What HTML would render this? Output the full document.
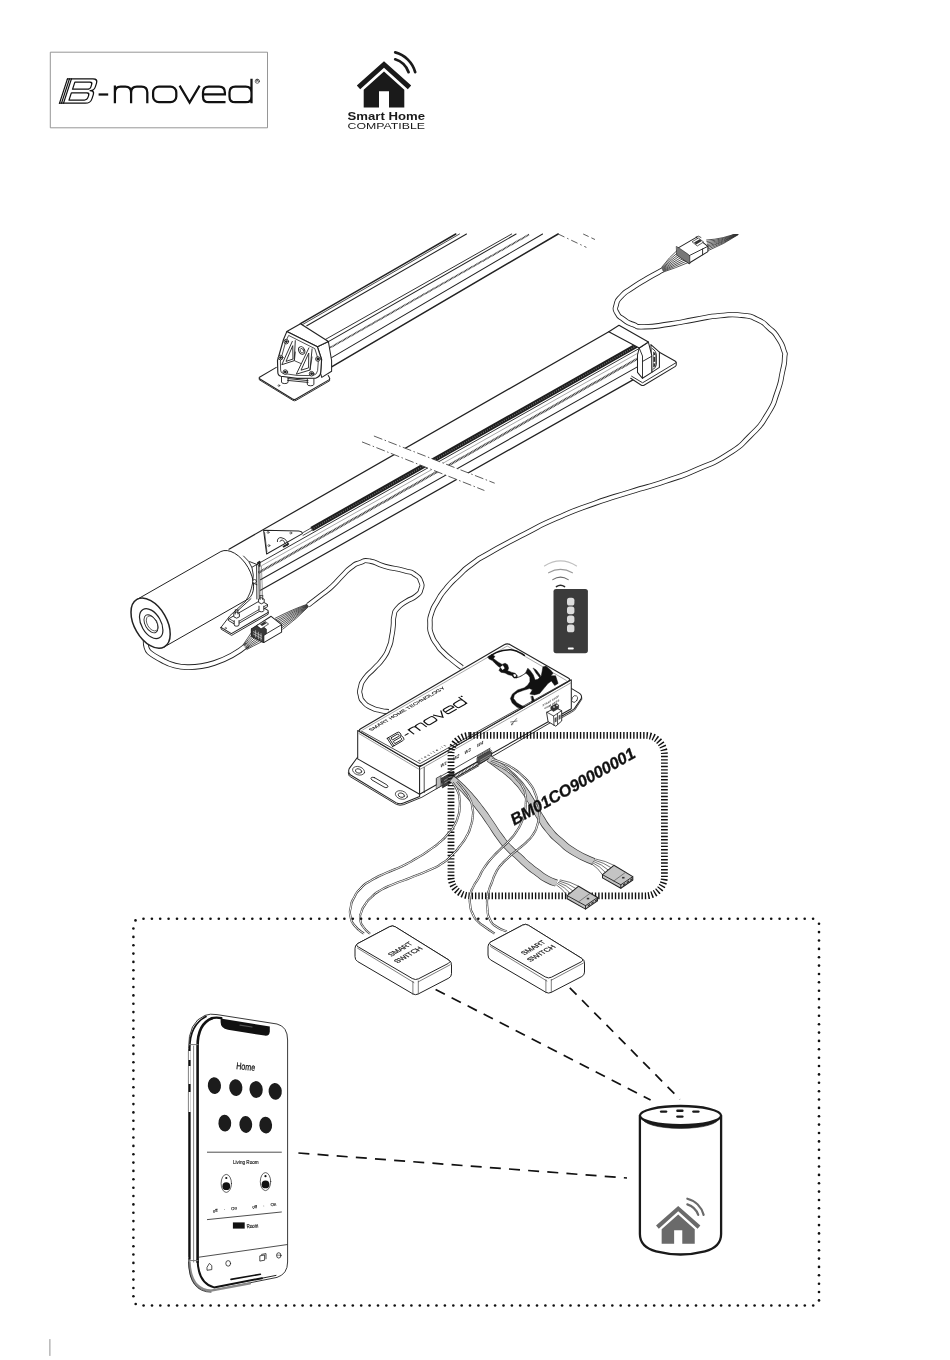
<!DOCTYPE html>
<html><head><meta charset="utf-8"><title>B-moved</title>
<style>
html,body{margin:0;padding:0;background:#fff;}
svg{display:block;font-family:"Liberation Sans",sans-serif;}
svg{will-change:transform;opacity:0.999;}
</style></head><body>
<svg width="950" height="1360" viewBox="0 0 950 1360" stroke-linejoin="round" stroke-linecap="round">
<rect x="0" y="0" width="950" height="1360" fill="#fff"/>
<g id="logo">
<rect x="50.7" y="52.2" width="216.8" height="75.6" fill="#fff" stroke="#8a8a8a" stroke-width="0.9"/>
<g transform="translate(59.5,103.2) skewX(-18)" fill="none" stroke="#111" stroke-width="1.25">
<path d="M0,0 V-24.3 M2,0 V-24.3 M4,0 V-24.3"/>
<path d="M0,0 H26 Q31,0 31,-4.5 V-8.5 Q31,-12.6 26.5,-12.6 Q30.5,-12.6 30.5,-16.5 V-20 Q30.5,-24.3 25.5,-24.3 H0"/>
<path d="M8.5,-3.2 H24 Q26.6,-3.2 26.6,-5.6 V-7.8 Q26.6,-10.4 24,-10.4 H8.5 Z M8.5,-14 H23.6 Q26.1,-14 26.1,-16.2 V-18.6 Q26.1,-21 23.6,-21 H8.5 Z"/>
</g>
<g fill="none" stroke="#111" stroke-width="2.25" stroke-linecap="butt" stroke-linejoin="miter">
<path d="M98.6,94.5 H108.2"/>
<path d="M114.9,85.4 V103.3 M114.9,92.39999999999999 Q114.9,86.6 120.7,86.6 H125.3 Q131.1,86.6 131.1,92.39999999999999 V103.3 M131.1,92.39999999999999 Q131.1,86.6 136.9,86.6 H141.5 Q147.3,86.6 147.3,92.39999999999999 V103.3"/>
<rect x="153.1" y="86.6" width="23.2" height="15.6" rx="5.8"/>
<path d="M179.6,85.6 L189.6,102.6 L199.6,85.6"/>
<path d="M203,94.4 H224.9 V92.39999999999999 Q224.9,86.6 219.1,86.6 H208.8 Q203,86.6 203,92.39999999999999 V96.4 Q203,102.2 208.8,102.2 H225.5"/>
<path d="M251.5,78.8 V103.3 M251.5,92.39999999999999 Q251.5,86.6 245.7,86.6 H235.3 Q229.5,86.6 229.5,92.39999999999999 V96.4 Q229.5,102.2 235.3,102.2 H245.7 Q251.5,102.2 251.5,96.4"/>
</g>
<circle cx="257.3" cy="81.2" r="2.1" fill="none" stroke="#111" stroke-width="0.6"/>
<text x="257.3" y="82.4" font-size="3.2" font-weight="bold" text-anchor="middle" fill="#111">R</text>
</g>
<g transform="translate(384,61.2) scale(1)" fill="#1a1a1a" stroke="none">
<path d="M0,0 L27.2,24.2 L23.8,28 L0,6.6 L-23.8,28 L-27.2,24.2 Z"/>
<path d="M0,10.4 L20.3,28.6 V46.4 H5 V30 H-5 V46.4 H-20.3 V28.6 Z"/>
<path d="M11.2,-1.9 A21,21 0 0 1 24.6,11" fill="none" stroke="#1a1a1a" stroke-width="2.7" stroke-linecap="round"/>
<path d="M11.2,-8.8 A28,28 0 0 1 31.2,11" fill="none" stroke="#1a1a1a" stroke-width="2.7" stroke-linecap="round"/>
</g>
<text x="347.6" y="119.6" font-size="10.6" font-weight="bold" fill="#1a1a1a" textLength="77.4" lengthAdjust="spacingAndGlyphs">Smart Home</text>
<text x="347.6" y="129.1" font-size="9.6" fill="#1a1a1a" textLength="77.4" lengthAdjust="spacingAndGlyphs">COMPATIBLE</text>
<line x1="49.9" y1="1339.5" x2="49.9" y2="1355.5" stroke="#777" stroke-width="0.8"/>
<g id="upper-rail">
<line x1="300.5" y1="323.7" x2="455.8" y2="234.0" stroke="#222" stroke-width="1.49" />
<line x1="301.8" y1="325.0" x2="459.5" y2="234.0" stroke="#222" stroke-width="0.8" />
<line x1="306.8" y1="325.8" x2="466.5" y2="234.0" stroke="#222" stroke-width="1.03" />
<line x1="324.6" y1="339.9" x2="511.7" y2="234.0" stroke="#222" stroke-width="0.92" />
<line x1="328.4" y1="341.6" x2="516.1" y2="234.0" stroke="#222" stroke-width="1.03" />
<line x1="330.2" y1="347.6" x2="529" y2="234.6" stroke="#3a3a3a" stroke-width="1.7" stroke-dasharray="1.0 0.45" stroke-linecap="butt"/>
<line x1="331.6" y1="357.6" x2="542.6" y2="234.0" stroke="#222" stroke-width="1.03" />
<line x1="331.6" y1="366.8" x2="558.1" y2="234.0" stroke="#222" stroke-width="1.49" />
<path d="M558.1,234 L586.4,247.4" stroke="#333" stroke-width="0.8" fill="none" stroke-dasharray="7 3 1.5 3" stroke-linecap="butt"/>
<path d="M583.2,234 L596,240" stroke="#333" stroke-width="0.8" fill="none" stroke-dasharray="6 3 4 3" stroke-linecap="butt"/>
<path d="M276.3,367.4 L259.5,377.2 Q258.6,378.2 260,379 L292.6,399 Q294.4,400 296,399 L329.3,379.6 Q330.2,378.6 329.4,377.6 L328.2,375.4" stroke="#222" stroke-width="1.03" fill="#fff" />
<path d="M259.3,378.6 L259.3,379.8 L293,400.4 Q294.4,401.2 296,400.4 L329.6,380.8 L329.6,379" stroke="#222" stroke-width="0.92" fill="none" />
<circle cx="278.9" cy="385.6" r="0.9" fill="none" stroke="#222" stroke-width="0.6"/>
<path d="M281.5,376.4 V382.0 A3.3,1.6 0 0 0 288.1,382.0 V376.4" stroke="#222" stroke-width="0.92" fill="#fff" />
<path d="M307.3,378.6 V384.20000000000005 A3.3,1.6 0 0 0 313.90000000000003,384.20000000000005 V378.6" stroke="#222" stroke-width="0.92" fill="#fff" />
<polygon points="317.4,346.8 328.4,341.6 331.6,360.5 331.6,371.2 321.8,377.4 320.5,373.2 321.6,359.5" stroke="#222" stroke-width="1.03" fill="#fff" />
<polygon points="286.8,331.6 300.5,323.7 328.4,341.6 317.4,346.8" stroke="#222" stroke-width="1.15" fill="#fff" />
<path d="M286.8,331.6 L317.4,346.8 L321.6,359.5 L320.7,372.6 Q320.2,376.6 315.6,378.2 L297,378.4 L281,376.2 Q277.8,375.6 277.8,372 L277.5,360.5 L283.5,339.5 Z" stroke="#222" stroke-width="1.15" fill="#fff" />
<path d="M289,335.6 L314.8,348.6 L318.4,360 L317.6,370.6 Q317,374.6 313,375.6 L297,375.4 L283,373.4 Q280.6,372.8 280.6,370 L280.4,361 L285.8,341.4 Z" stroke="#222" stroke-width="0.8" fill="none" />
<path d="M292.3,341.4 L281.8,364.7 L294.2,360.7 L295.3,340.7 M292.6,346 L286,361.4 L292.6,359.2 Z" stroke="#222" stroke-width="0.92" fill="none" />
<path d="M308.9,347.9 L296.3,374.2 L310,370 L312.1,348.9 M308.6,353.4 L301,370.2 L308.2,368 Z" stroke="#222" stroke-width="0.92" fill="none" />
<path d="M295.3,352 L294.4,360.7 L300.6,363.4 M312,357 L310,370" stroke="#222" stroke-width="0.8" fill="none" />
<ellipse cx="301.7" cy="350.5" rx="2.9" ry="3.9" transform="rotate(-25 301.7 350.5)" fill="none" stroke="#222" stroke-width="0.9"/>
<ellipse cx="301.9" cy="350.7" rx="1.6" ry="2.4" transform="rotate(-25 301.9 350.7)" fill="none" stroke="#222" stroke-width="0.7"/>
<circle cx="286.3" cy="341.6" r="2.3" fill="#fff" stroke="#222" stroke-width="0.9"/>
<circle cx="286.3" cy="341.6" r="1.4" fill="#222" stroke="none"/>
<circle cx="280.6" cy="357.6" r="2.3" fill="#fff" stroke="#222" stroke-width="0.9"/>
<circle cx="280.6" cy="357.6" r="1.4" fill="#222" stroke="none"/>
<circle cx="317.9" cy="359" r="2.3" fill="#fff" stroke="#222" stroke-width="0.9"/>
<circle cx="317.9" cy="359" r="1.4" fill="#222" stroke="none"/>
<circle cx="285.3" cy="372.1" r="2.3" fill="#fff" stroke="#222" stroke-width="0.9"/>
<circle cx="285.3" cy="372.1" r="1.4" fill="#222" stroke="none"/>
<circle cx="311.6" cy="373.7" r="2.3" fill="#fff" stroke="#222" stroke-width="0.9"/>
<circle cx="311.6" cy="373.7" r="1.4" fill="#222" stroke="none"/>
<path d="M288,378.6 L308,380.6 M287.6,380.4 L308,382.4" stroke="#222" stroke-width="0.92" fill="none" />
</g>
<g id="lower-rail">
<line x1="229.0" y1="549.2" x2="608.8" y2="331.7" stroke="#222" stroke-width="1.26" />
<line x1="311.6" y1="529.1" x2="636.6" y2="345.5" stroke="#1e1e1e" stroke-width="4.8" stroke-linecap="butt"/>
<line x1="311.6" y1="529.3" x2="636.6" y2="345.7" stroke="#6a6a6a" stroke-width="1.49" stroke-linecap="butt" stroke-dasharray="1.0 1.4"/>
<line x1="252.0" y1="567.2" x2="639.2" y2="348.5" stroke="#222" stroke-width="0.92" />
<line x1="262.0" y1="565.5" x2="640.0" y2="351.9" stroke="#666" stroke-width="0.57" />
<line x1="258.5" y1="572.7" x2="640.4" y2="357.0" stroke="#3a3a3a" stroke-width="2.3" stroke-linecap="butt" stroke-dasharray="1.0 0.5"/>
<line x1="260.5" y1="579.8" x2="637.8" y2="366.6" stroke="#222" stroke-width="1.03" />
<line x1="260.5" y1="590.3" x2="637.8" y2="377.1" stroke="#222" stroke-width="1.26" />
<line x1="303.0" y1="532.6" x2="311.6" y2="527.7" stroke="#222" stroke-width="0.8" />
<line x1="303.0" y1="535.4" x2="311.6" y2="530.5" stroke="#222" stroke-width="0.8" />
<polygon points="373.9,436.0 494.7,483.2 484.4,490.5 362.0,441.9" stroke="none" stroke-width="0.0" fill="#fff" />
<path d="M373.9,436 L494.7,483.2" stroke="#333" stroke-width="0.8" fill="none" stroke-dasharray="9 2.5 1.5 2.5" stroke-linecap="butt"/>
<path d="M362,441.9 L484.4,490.5" stroke="#333" stroke-width="0.8" fill="none" stroke-dasharray="9 2.5 1.5 2.5" stroke-linecap="butt"/>
<path d="M630.7,378.3 L641.4,385.2 Q642.6,386 644,385.2 L675.4,366.4 Q676.4,365.6 676.3,364.4 L676.2,362.6 Q676,361.6 675,361 L659.4,352.2" stroke="#222" stroke-width="1.03" fill="#fff" />
<path d="M631.6,376.2 L642.6,382.8 L676.2,362.6" stroke="#222" stroke-width="0.92" fill="none" />
<path d="M650.9,344.6 L659.4,352.2 L659.4,367.4 L651.8,372.4 Z" stroke="#222" stroke-width="1.03" fill="#fff" />
<path d="M652.4,348.6 Q656.4,350.8 656.4,356 L656.4,364.6 Q656,368 653,369.4" stroke="#222" stroke-width="0.92" fill="none" />
<path d="M653.2,351.5 L655.6,353.2 L655.6,366 L653.2,367.6 Z" fill="#333" stroke="none"/>
<circle cx="654.4" cy="356" r="0.9" fill="#fff"/><circle cx="654.4" cy="362.6" r="0.9" fill="#fff"/>
<polygon points="639.2,348.0 648.4,342.1 651.8,355.6 651.8,372.4 642.5,378.3 637.5,372.4 637.5,355.0" stroke="#222" stroke-width="1.03" fill="#fff" />
<polygon points="608.8,331.7 619.0,325.3 648.4,342.1 639.2,348.0" stroke="#222" stroke-width="1.15" fill="#fff" />
<path d="M639.2,348 L642.5,356 L642.5,378.3 M642.6,361.4 L651.8,356.2" stroke="#222" stroke-width="0.92" fill="none" />
</g>
<g id="motor">
<path d="M247.6,644.6 C240,651 228,658.6 214.3,663 C205,666 196,667.4 187.4,667.2 C178,667 170,664.6 163.8,661.2 C157,657.6 152,655 149,652 C146.4,649.4 145.6,646.8 145.6,640" stroke="#222" stroke-width="5.70" fill="none" stroke-linecap="butt"/>
<path d="M247.6,644.6 C240,651 228,658.6 214.3,663 C205,666 196,667.4 187.4,667.2 C178,667 170,664.6 163.8,661.2 C157,657.6 152,655 149,652 C146.4,649.4 145.6,646.8 145.6,640" stroke="#fff" stroke-width="3.90" fill="none" stroke-linecap="butt"/>
<path d="M136.9,599.5 L220.9,551.5 A16.2,27.4 -30 0 1 248.3,598.9 L164.3,646.9 Z" fill="#fff" stroke="#222" stroke-width="1"/>
<ellipse cx="150.6" cy="623.2" rx="16.2" ry="27.4" transform="rotate(-30 150.6 623.2)" fill="#fff" stroke="#222" stroke-width="1.5"/>
<ellipse cx="151.2" cy="623.6" rx="9.7" ry="16.4" transform="rotate(-30 151.2 623.6)" fill="none" stroke="#222" stroke-width="1.2"/>
<ellipse cx="151.0" cy="623.8000000000001" rx="5.8" ry="9.9" transform="rotate(-30 151.0 623.8000000000001)" fill="none" stroke="#222" stroke-width="0.9"/>
<ellipse cx="152.2" cy="623.4000000000001" rx="4.9" ry="8.2" transform="rotate(-30 152.2 623.4000000000001)" fill="none" stroke="#333" stroke-width="0.7"/>
</g>
<g id="bracket">
<path d="M263.6,530.3 L298.6,531 Q302.4,531.6 302.4,533.6 L266.6,554 Z" stroke="#222" stroke-width="1.03" fill="#fff" />
<path d="M264.6,532.6 L266.9,551.6" stroke="#222" stroke-width="0.69" fill="none" />
<circle cx="268.1" cy="532.4" r="1.0" fill="#fff" stroke="#222" stroke-width="0.6"/>
<circle cx="290.8" cy="533" r="1.0" fill="#fff" stroke="#222" stroke-width="0.6"/>
<circle cx="268.9" cy="545.6" r="1.0" fill="#fff" stroke="#222" stroke-width="0.6"/>
<path d="M277.4,541.6 Q277,537.6 281,537.6 Q285,537.8 287.6,542.2 L287.6,545.4 M280,541.4 Q280.6,539.6 282.6,540.2 Q284.6,541 285.2,543.6" stroke="#222" stroke-width="0.92" fill="none" />
<path d="M283.6,546.6 L288.2,544" stroke="#222" stroke-width="1.84" fill="none" />
<path d="M243.6,556 Q256,566 252.6,583 Q250.6,594 246,600.4" stroke="#222" stroke-width="0.92" fill="none" />
<path d="M249.6,561.6 L258.8,565.2 L259.2,597.6 M256.6,564.4 L256.9,599 M252.6,583 L256.8,584.6" stroke="#222" stroke-width="0.92" fill="none" />
<path d="M257.8,563 L259.6,561.8 L259.6,566" stroke="#222" stroke-width="1.84" fill="none" />
<circle cx="254.6" cy="581.4" r="1.9" fill="#fff" stroke="#222" stroke-width="0.8"/>
<path d="M245.6,601.4 L230,615.6 L221,627.4 M251,598.6 L237,611.4" stroke="#222" stroke-width="0.92" fill="none" />
<path d="M221,627.4 L231.4,633.6 L268.2,612.4 L268,610.4 L262,607" stroke="#222" stroke-width="1.03" fill="#fff" />
<path d="M221,627.4 L221.2,629.2 L231.6,635.4 L268.2,614.2 L268.2,612.4" stroke="#222" stroke-width="0.92" fill="none" />
<path d="M228.6,620.6 L236,625 L267.6,606.6 L267.4,604.4 L260.4,600.4 L229,618.6 Z" stroke="#222" stroke-width="0.92" fill="#fff" />
<path d="M236,625 L236,623 L267.4,604.6 M229,618.6 L236,622.8" stroke="#222" stroke-width="0.8" fill="none" />
<path d="M234.2,620.6 V625.0 A2.4,1.2 0 0 0 239.0,625.0 V620.6" stroke="#222" stroke-width="0.92" fill="#fff" />
<path d="M233.79999999999998,613.6 L233.79999999999998,616.8000000000001 L236.6,618.2 L239.4,616.8000000000001 L239.4,613.6 L236.6,612.2 Z" stroke="#222" stroke-width="0.92" fill="#fff" />
<path d="M235.29999999999998,610.0 V614.0 M237.9,610.0 V614.0 M235.29999999999998,610.0 H237.9" stroke="#222" stroke-width="0.8" fill="none" />
<path d="M259.0,606.2 V610.6 A2.4,1.2 0 0 0 263.79999999999995,610.6 V606.2" stroke="#222" stroke-width="0.92" fill="#fff" />
<path d="M258.59999999999997,599.2 L258.59999999999997,602.4000000000001 L261.4,603.8000000000001 L264.2,602.4000000000001 L264.2,599.2 L261.4,597.8000000000001 Z" stroke="#222" stroke-width="0.92" fill="#fff" />
<path d="M260.09999999999997,595.6 V599.6 M262.7,595.6 V599.6 M260.09999999999997,595.6 H262.7" stroke="#222" stroke-width="0.8" fill="none" />
<circle cx="225.6" cy="628.2" r="0.8" fill="none" stroke="#222" stroke-width="0.5"/>
<path d="M259.6,566 L261,596 M261.4,566 L262.6,596" stroke="#555" stroke-width="0.57" fill="none" />
</g>
<g id="motor-connector">
<path d="M275.3,618.2 Q293.6,608.8 307.4,604.2" stroke="#2a2a2a" stroke-width="0.8" fill="none" />
<path d="M276.2,619.6 Q294.1,609.9 307.5,604.5" stroke="#2a2a2a" stroke-width="0.8" fill="none" />
<path d="M277.2,621.0 Q294.5,611.1 307.7,604.8" stroke="#2a2a2a" stroke-width="0.8" fill="none" />
<path d="M278.1,622.3 Q295.0,612.3 307.8,605.1" stroke="#2a2a2a" stroke-width="0.8" fill="none" />
<path d="M279.1,623.7 Q295.5,613.5 308.0,605.4" stroke="#2a2a2a" stroke-width="0.8" fill="none" />
<path d="M280.0,625.1 Q295.9,614.7 308.1,605.7" stroke="#2a2a2a" stroke-width="0.8" fill="none" />
<path d="M280.9,626.5 Q296.4,615.9 308.3,606.0" stroke="#2a2a2a" stroke-width="0.8" fill="none" />
<path d="M281.9,627.8 Q296.9,617.1 308.4,606.3" stroke="#2a2a2a" stroke-width="0.8" fill="none" />
<path d="M282.8,629.2 Q297.4,618.2 308.6,606.6" stroke="#2a2a2a" stroke-width="0.8" fill="none" />
<path d="M251.8,632.0 Q247.4,638.5 243.4,644.4" stroke="#2a2a2a" stroke-width="0.8" fill="none" />
<path d="M253.3,633.4 Q248.1,639.6 243.9,645.1" stroke="#2a2a2a" stroke-width="0.8" fill="none" />
<path d="M254.7,634.7 Q248.9,640.7 244.4,645.8" stroke="#2a2a2a" stroke-width="0.8" fill="none" />
<path d="M256.2,636.1 Q249.6,641.8 244.9,646.5" stroke="#2a2a2a" stroke-width="0.8" fill="none" />
<path d="M257.6,637.5 Q250.3,643.0 245.5,647.3" stroke="#2a2a2a" stroke-width="0.8" fill="none" />
<path d="M259.1,638.9 Q251.0,644.1 246.0,648.0" stroke="#2a2a2a" stroke-width="0.8" fill="none" />
<path d="M260.5,640.2 Q251.8,645.2 246.5,648.7" stroke="#2a2a2a" stroke-width="0.8" fill="none" />
<path d="M262.0,641.6 Q252.5,646.3 247.0,649.4" stroke="#2a2a2a" stroke-width="0.8" fill="none" />
<polygon points="251.6,628.9 271.1,616.3 281.6,624.7 281.6,632.1 263.7,642.6 251.6,636.3" stroke="#222" stroke-width="1.03" fill="#fff" />
<path d="M251.6,628.9 L263.7,635.3 L281.6,624.7 M263.7,635.3 L263.7,642.6" stroke="#222" stroke-width="0.92" fill="none" />
<path d="M251.6,628.9 L259.6,623.8 L266.4,629.2 L266.4,633.6 L263.7,635.3 L263.7,642.6 L251.6,636.3 Z" fill="#3a3a3a" stroke="#222" stroke-width="0.7"/>
<path d="M257,625.6 L264.4,620.8 L268.6,624 L261.2,628.8 Z" fill="#fff" stroke="#222" stroke-width="0.7"/>
<path d="M260,624.4 L264.6,621.6 L266.6,623.2 L262,626 Z" fill="#333" stroke="none"/>
<path d="M253.4,631.6 L261.6,636 M253.4,634 L261.6,638.4 M255.6,630.6 V637 M258.4,632.2 V638.8 M261,633.6 V640.2" stroke="#ddd" stroke-width="0.6" fill="none"/>
</g>
<g id="cables">
<path d="M307.9,605.3 C311.9,602.2 311.9,602.3 320.0,596.0 C328.1,589.7 324.8,593.0 332.1,586.3 C339.4,579.6 335.7,582.3 342.0,576.0 C348.3,569.7 345.1,571.9 351.1,567.4 C357.1,562.9 353.7,564.7 360.0,562.6 C366.3,560.5 361.8,559.9 370.0,561.1 C378.2,562.3 373.5,563.2 384.7,566.3 C395.9,569.4 393.6,567.7 403.7,570.5 C413.8,573.3 409.3,570.9 415.0,574.6 C420.7,578.3 418.8,576.8 420.8,581.6 C422.8,586.4 422.5,584.3 421.0,589.0 C419.5,593.7 421.3,591.6 416.3,595.8 C411.3,600.0 412.3,597.4 406.0,601.6 C399.7,605.8 401.4,603.6 397.4,608.4 C393.4,613.2 395.4,610.1 394.0,616.0 C392.6,621.9 394.0,619.0 393.2,626.0 C392.4,633.0 393.0,629.9 391.6,637.0 C390.2,644.1 391.8,640.2 388.9,647.4 C386.0,654.6 387.9,651.6 383.0,658.6 C378.1,665.6 380.2,661.9 374.2,668.4 C368.2,674.9 369.6,671.7 365.0,678.0 C360.4,684.3 362.0,681.5 360.5,687.4 C359.0,693.3 359.3,690.7 360.4,695.6 C361.5,700.5 360.2,698.2 363.7,702.1 C367.2,706.0 365.4,704.6 371.0,707.4 C376.6,710.2 374.6,709.1 380.5,710.5 C386.4,711.9 385.9,711.2 388.6,711.6" stroke="#222" stroke-width="5.15" fill="none" stroke-linecap="butt"/>
<path d="M307.9,605.3 C311.9,602.2 311.9,602.3 320.0,596.0 C328.1,589.7 324.8,593.0 332.1,586.3 C339.4,579.6 335.7,582.3 342.0,576.0 C348.3,569.7 345.1,571.9 351.1,567.4 C357.1,562.9 353.7,564.7 360.0,562.6 C366.3,560.5 361.8,559.9 370.0,561.1 C378.2,562.3 373.5,563.2 384.7,566.3 C395.9,569.4 393.6,567.7 403.7,570.5 C413.8,573.3 409.3,570.9 415.0,574.6 C420.7,578.3 418.8,576.8 420.8,581.6 C422.8,586.4 422.5,584.3 421.0,589.0 C419.5,593.7 421.3,591.6 416.3,595.8 C411.3,600.0 412.3,597.4 406.0,601.6 C399.7,605.8 401.4,603.6 397.4,608.4 C393.4,613.2 395.4,610.1 394.0,616.0 C392.6,621.9 394.0,619.0 393.2,626.0 C392.4,633.0 393.0,629.9 391.6,637.0 C390.2,644.1 391.8,640.2 388.9,647.4 C386.0,654.6 387.9,651.6 383.0,658.6 C378.1,665.6 380.2,661.9 374.2,668.4 C368.2,674.9 369.6,671.7 365.0,678.0 C360.4,684.3 362.0,681.5 360.5,687.4 C359.0,693.3 359.3,690.7 360.4,695.6 C361.5,700.5 360.2,698.2 363.7,702.1 C367.2,706.0 365.4,704.6 371.0,707.4 C376.6,710.2 374.6,709.1 380.5,710.5 C386.4,711.9 385.9,711.2 388.6,711.6" stroke="#fff" stroke-width="3.45" fill="none" stroke-linecap="butt"/>
<path d="M662.6,270.0 C657.4,272.9 657.2,272.6 647.0,278.6 C636.8,284.6 640.5,282.2 632.0,288.0 C623.5,293.8 626.8,290.4 621.6,296.0 C616.4,301.6 617.8,299.0 616.3,304.7 C614.8,310.4 614.5,308.1 617.0,313.0 C619.5,317.9 618.4,315.7 623.7,319.5 C629.0,323.3 626.0,322.0 633.0,324.4 C640.0,326.8 632.4,326.9 644.7,326.8 C657.0,326.7 653.1,326.4 670.0,324.0 C686.9,321.6 678.6,322.3 695.3,319.5 C712.0,316.7 704.6,317.0 720.0,315.6 C735.4,314.2 729.3,314.0 741.6,315.3 C753.9,316.6 747.9,315.2 757.0,319.4 C766.1,323.6 761.9,321.7 768.9,327.9 C775.9,334.1 773.1,330.6 778.0,338.0 C782.9,345.4 781.5,343.3 783.7,350.0 C785.9,356.7 785.0,350.7 784.6,358.0 C784.2,365.3 784.9,360.3 782.4,372.0 C779.9,383.7 782.1,378.7 777.0,393.0 C771.9,407.3 776.0,400.7 767.0,415.0 C758.0,429.3 763.3,422.8 750.0,436.0 C736.7,449.2 744.4,443.7 727.1,454.7 C709.8,465.7 718.6,460.1 698.0,469.0 C677.4,477.9 688.0,473.6 665.3,481.3 C642.6,489.0 653.6,484.6 630.0,492.0 C606.4,499.4 618.5,494.9 594.5,503.4 C570.5,511.9 581.6,507.3 558.0,517.6 C534.4,527.9 546.5,522.6 523.8,534.3 C501.1,546.0 507.3,542.7 490.0,552.6 C472.7,562.5 482.5,556.3 472.0,564.0 C461.5,571.7 467.1,567.6 458.4,575.8 C449.7,584.0 453.0,580.2 446.0,588.6 C439.0,597.0 442.2,593.0 437.4,601.1 C432.6,609.2 434.1,605.3 431.6,613.0 C429.1,620.7 430.0,616.9 430.0,624.2 C430.0,631.5 429.1,628.0 431.6,635.0 C434.1,642.0 433.3,639.3 437.4,645.3 C441.5,651.3 439.1,648.1 444.0,653.0 C448.9,657.9 446.1,655.1 452.1,660.0 C458.1,664.9 458.7,665.1 462.0,667.6" stroke="#222" stroke-width="5.35" fill="none" stroke-linecap="butt"/>
<path d="M662.6,270.0 C657.4,272.9 657.2,272.6 647.0,278.6 C636.8,284.6 640.5,282.2 632.0,288.0 C623.5,293.8 626.8,290.4 621.6,296.0 C616.4,301.6 617.8,299.0 616.3,304.7 C614.8,310.4 614.5,308.1 617.0,313.0 C619.5,317.9 618.4,315.7 623.7,319.5 C629.0,323.3 626.0,322.0 633.0,324.4 C640.0,326.8 632.4,326.9 644.7,326.8 C657.0,326.7 653.1,326.4 670.0,324.0 C686.9,321.6 678.6,322.3 695.3,319.5 C712.0,316.7 704.6,317.0 720.0,315.6 C735.4,314.2 729.3,314.0 741.6,315.3 C753.9,316.6 747.9,315.2 757.0,319.4 C766.1,323.6 761.9,321.7 768.9,327.9 C775.9,334.1 773.1,330.6 778.0,338.0 C782.9,345.4 781.5,343.3 783.7,350.0 C785.9,356.7 785.0,350.7 784.6,358.0 C784.2,365.3 784.9,360.3 782.4,372.0 C779.9,383.7 782.1,378.7 777.0,393.0 C771.9,407.3 776.0,400.7 767.0,415.0 C758.0,429.3 763.3,422.8 750.0,436.0 C736.7,449.2 744.4,443.7 727.1,454.7 C709.8,465.7 718.6,460.1 698.0,469.0 C677.4,477.9 688.0,473.6 665.3,481.3 C642.6,489.0 653.6,484.6 630.0,492.0 C606.4,499.4 618.5,494.9 594.5,503.4 C570.5,511.9 581.6,507.3 558.0,517.6 C534.4,527.9 546.5,522.6 523.8,534.3 C501.1,546.0 507.3,542.7 490.0,552.6 C472.7,562.5 482.5,556.3 472.0,564.0 C461.5,571.7 467.1,567.6 458.4,575.8 C449.7,584.0 453.0,580.2 446.0,588.6 C439.0,597.0 442.2,593.0 437.4,601.1 C432.6,609.2 434.1,605.3 431.6,613.0 C429.1,620.7 430.0,616.9 430.0,624.2 C430.0,631.5 429.1,628.0 431.6,635.0 C434.1,642.0 433.3,639.3 437.4,645.3 C441.5,651.3 439.1,648.1 444.0,653.0 C448.9,657.9 446.1,655.1 452.1,660.0 C458.1,664.9 458.7,665.1 462.0,667.6" stroke="#fff" stroke-width="3.65" fill="none" stroke-linecap="butt"/>
</g>
<g id="top-connector">
<path d="M677.6,250.0 Q669.3,257.0 661.6,267.4" stroke="#2a2a2a" stroke-width="0.8" fill="none" />
<path d="M679.0,251.6 Q670.0,258.4 661.9,267.9" stroke="#2a2a2a" stroke-width="0.8" fill="none" />
<path d="M680.4,253.1 Q670.7,259.8 662.2,268.5" stroke="#2a2a2a" stroke-width="0.8" fill="none" />
<path d="M681.7,254.6 Q671.4,261.2 662.5,269.0" stroke="#2a2a2a" stroke-width="0.8" fill="none" />
<path d="M683.1,256.2 Q672.0,262.6 662.8,269.6" stroke="#2a2a2a" stroke-width="0.8" fill="none" />
<path d="M684.5,257.8 Q672.7,264.0 663.1,270.1" stroke="#2a2a2a" stroke-width="0.8" fill="none" />
<path d="M685.9,259.3 Q673.4,265.4 663.4,270.7" stroke="#2a2a2a" stroke-width="0.8" fill="none" />
<path d="M687.2,260.8 Q674.1,266.8 663.7,271.2" stroke="#2a2a2a" stroke-width="0.8" fill="none" />
<path d="M688.6,262.4 Q674.8,268.2 664.0,271.8" stroke="#2a2a2a" stroke-width="0.8" fill="none" />
<clipPath id="cptop"><rect x="600" y="234" width="200" height="100"/></clipPath>
<g clip-path="url(#cptop)">
<path d="M706.6,240.0 Q724.0,239.0 738.0,232.6" stroke="#2a2a2a" stroke-width="0.8" fill="none" />
<path d="M706.9,241.5 Q724.0,239.7 738.0,232.9" stroke="#2a2a2a" stroke-width="0.8" fill="none" />
<path d="M707.2,243.0 Q724.0,240.5 738.0,233.2" stroke="#2a2a2a" stroke-width="0.8" fill="none" />
<path d="M707.5,244.5 Q724.0,241.2 738.0,233.5" stroke="#2a2a2a" stroke-width="0.8" fill="none" />
<path d="M707.7,245.9 Q724.0,242.0 738.0,233.9" stroke="#2a2a2a" stroke-width="0.8" fill="none" />
<path d="M708.0,247.4 Q724.0,242.7 738.0,234.2" stroke="#2a2a2a" stroke-width="0.8" fill="none" />
<path d="M708.3,248.9 Q724.0,243.5 738.0,234.5" stroke="#2a2a2a" stroke-width="0.8" fill="none" />
<path d="M708.6,250.4 Q724.0,244.2 738.0,234.8" stroke="#2a2a2a" stroke-width="0.8" fill="none" />
</g>
<polygon points="677.4,248.4 696.3,237.4 707.9,246.3 707.9,251.6 688.9,263.2 677.4,254.7" stroke="#222" stroke-width="1.03" fill="#fff" />
<path d="M677.4,248.4 L688.9,255.8 L707.9,246.3 M688.9,255.8 L688.9,263.2 M702.6,249 L702.6,254.8" stroke="#222" stroke-width="0.92" fill="none" />
<path d="M676.6,246.6 L679.4,248.2 L688.6,254.6 L689.8,256 L689.8,264 L687.6,262.6 L677,255.4 Z" fill="#777" stroke="#222" stroke-width="0.6"/>
<path d="M692.4,241.6 L698.4,238 L703.6,242 L697.6,245.8 Z" fill="#fff" stroke="#222" stroke-width="0.7"/>
<path d="M694,242.6 L699.6,239.2 L701.8,241 L696.2,244.4 Z" fill="#333" stroke="none"/>
<path d="M696,236.8 Q698.4,235 701,237.4" fill="none" stroke="#222" stroke-width="0.8"/>
</g>
<g id="box">
<path d="M357.7,757 L349.2,768.6 Q347.6,772.6 350.6,775 L396,802.6 Q399.6,804.6 403.6,803 L419.6,796.4 L419.6,790" stroke="#222" stroke-width="1.03" fill="#fff" />
<path d="M348.4,772.6 L348.6,774.6 Q349,776.2 350.8,777 L396.4,804.4 Q400,806 403.8,804.6 L421,797.6" stroke="#222" stroke-width="0.92" fill="none" />
<ellipse cx="358.6" cy="770.8" rx="6.2" ry="4.1" transform="rotate(18 358.6 770.8)" fill="none" stroke="#222" stroke-width="0.7"/>
<ellipse cx="358.6" cy="771.0" rx="3.2" ry="2.1" transform="rotate(18 358.6 770.8)" fill="none" stroke="#222" stroke-width="0.8"/>
<ellipse cx="401.4" cy="795" rx="6.2" ry="4.1" transform="rotate(18 401.4 795)" fill="none" stroke="#222" stroke-width="0.7"/>
<ellipse cx="401.4" cy="795.2" rx="3.2" ry="2.1" transform="rotate(18 401.4 795)" fill="none" stroke="#222" stroke-width="0.8"/>
<path d="M374.4,777.6 L386.8,784.8 Q388.8,786.4 387.4,787.4 Q386,788.2 384,787 L372,780 Q370.2,778.6 371.4,777.6 Q372.6,776.8 374.4,777.6 Z" stroke="#222" stroke-width="0.92" fill="none" />
<path d="M571.3,688.4 L579.6,693.4 Q582.4,695.6 581.2,698.6 L574.4,708.6 L571.3,710.8 L562,716" stroke="#222" stroke-width="1.03" fill="#fff" />
<path d="M581.6,697 L581.8,699.2 L574.8,710 L571.3,712.4 L562,717.6" stroke="#222" stroke-width="0.8" fill="none" />
<ellipse cx="574.6" cy="699" rx="2.6" ry="3.6" transform="rotate(30 574.6 699)" fill="none" stroke="#222" stroke-width="0.7"/>
<polygon points="357.7,730.5 357.7,758.9 419.6,794.2 419.6,766.8" stroke="#222" stroke-width="1.03" fill="#fff" />
<polygon points="419.6,766.8 419.6,794.2 571.3,708.8 571.3,679.8" stroke="#222" stroke-width="1.03" fill="#fff" />
<path d="M421.6,797.4 L562.3,715.8" stroke="#222" stroke-width="0.92" fill="none" />
<path d="M360.7,732.3 Q357.7,730.5 360.7,728.7 L504.2,644.8 Q507.2,643.0 510.2,644.7 L568.3,678.1 Q571.3,679.8 568.3,681.5 L422.6,765.1 Q419.6,766.8 416.6,765.0 Z" fill="#fff" stroke="#222" stroke-width="1.1"/>
<path d="M361.1,730.9 L420.0,763.6 L568.7,680.8" stroke="#222" stroke-width="0.8" fill="none" />
<path d="M424.2,767.4 L424.2,792.6" stroke="#222" stroke-width="0.8" fill="none" />
<path d="M358.9,733.5 L419.6,769.6 L571.3,682.6" stroke="#555" stroke-width="0.57" fill="none" />
<path d="M362.7,729.9 L507.2,646.0 L566.3,680.4" stroke="#666" stroke-width="0.57" fill="none" />
<text transform="matrix(0.866,-0.5,0.866,0.5,371.0,731.2)" font-size="4.9" fill="#222" stroke="#222" stroke-width="0.15" textLength="86" lengthAdjust="spacingAndGlyphs">SMART HOME TECHNOLOGY</text>
<text transform="matrix(0.866,-0.5,0.866,0.5,419.4,761.4)" font-size="3.6" font-weight="bold" fill="#333" textLength="31" lengthAdjust="spacing">elesite.it</text>
<g transform="matrix(0.866,-0.5,0.78,0.6,392.6,746.6) scale(0.448) translate(-59.5,-103.2)">
<g transform="translate(59.5,103.2) skewX(-18)" fill="none" stroke="#111" stroke-width="1.9">
<path d="M0,0 V-24.3 M3.6,0 V-24.3"/>
<path d="M0,0 H26 Q31,0 31,-4.5 V-8.5 Q31,-12.6 26.5,-12.6 Q30.5,-12.6 30.5,-16.5 V-20 Q30.5,-24.3 25.5,-24.3 H0"/>
<path d="M8.5,-3.6 H24 Q26.6,-3.6 26.6,-5.8 V-7.8 Q26.6,-10.2 24,-10.2 H8.5 Z M8.5,-14.4 H23.6 Q26.1,-14.4 26.1,-16.4 V-18.6 Q26.1,-20.6 23.6,-20.6 H8.5 Z"/>
</g>
<g fill="none" stroke="#111" stroke-width="2.7" stroke-linecap="butt" stroke-linejoin="miter">
<path d="M98.6,94.5 H108.2"/>
<path d="M114.9,85.4 V103.3 M114.9,91.2 Q114.9,86.6 119.5,86.6 H126.6 Q131.1,86.6 131.1,91.2 V103.3 M131.1,91.2 Q131.1,86.6 135.7,86.6 H142.7 Q147.3,86.6 147.3,91.2 V103.3"/>
<rect x="153.1" y="86.6" width="23.2" height="15.6" rx="4.6"/>
<path d="M179.6,85.6 L189.6,102.6 L199.6,85.6"/>
<path d="M203,94.4 H224.9 V91.2 Q224.9,86.6 220.3,86.6 H207.6 Q203,86.6 203,91.2 V97.6 Q203,102.2 207.6,102.2 H225.5"/>
<path d="M251.5,78.8 V103.3 M251.5,91.2 Q251.5,86.6 246.9,86.6 H234.1 Q229.5,86.6 229.5,91.2 V97.6 Q229.5,102.2 234.1,102.2 H246.9 Q251.5,102.2 251.5,97.6"/>
</g><circle cx="257.3" cy="81.2" r="2" fill="#111"/></g>
<path d="M487.8,656.8 L492.0,654.3 L494.9,656.4 L493.4,658.5 L497.9,661.9 L502.1,664.4 L505.1,663.2 L507.6,664.8 L508.6,668.2 L507.6,670.7 L511.8,672.4 L515.2,673.3 L517.3,675.8 L517.0,677.9 L513.9,678.1 L511.8,675.5 L508.4,674.7 L505.1,673.0 L500.8,672.2 L499.0,670.3 L500.4,667.8 L497.9,666.1 L494.9,663.2 L492.4,660.6 L489.1,658.9 Z" fill="#111" stroke="#111" stroke-width="0.5" stroke-linejoin="round"/>
<path d="M525.7,672.8 L527.8,668.2 L530.3,670.7 L533.3,674.9 L535.1,680.0 L537.9,679.3 L541.3,675.8 L542.1,671.6 L542.9,666.9 L545.9,666.1 L550.5,669.9 L553.1,673.3 L550.9,675.8 L555.6,675.8 L558.1,683.4 L554.7,685.5 L551.4,681.0 L548.0,683.4 L544.6,687.6 L539.6,693.5 L534.5,694.9 L529.9,694.1 L532.4,689.7 L529.5,688.6 L523.6,690.3 L517.7,692.4 L514.3,694.9 L513.5,698.5 L516.8,702.7 L521.1,705.3 L524.6,706.9 L521.1,708.8 L516.8,707.1 L512.2,702.9 L510.4,698.5 L512.5,693.9 L517.7,689.9 L524.4,687.8 L527.8,685.1 L529.9,681.7 L529.9,677.5 L528.2,674.9 Z" fill="#111" stroke="#111" stroke-width="0.5" stroke-linejoin="round"/>
<path d="M533.3,668.2 L536.2,669.9 L540.6,675.8 L539.6,677.6 L536.2,673.3 Z" fill="#111" stroke="#111" stroke-width="0.5" stroke-linejoin="round"/>
<path d="M531.2,696.4 L532.8,696.0 L534.3,700.6 L532.4,701.6 Z" fill="#111" stroke="#111" stroke-width="0.5" stroke-linejoin="round"/>
<path d="M500.3,667.0 L502.9,665.3 L504.7,668.2 L502.5,670.0 Z" fill="#fff" stroke="none"/>
<path d="M513.1,674.5 L515.2,674.1 L516.4,676.2 L514.3,677.1 Z" fill="#fff" stroke="none"/>
<path d="M492.0,654.9 C494.4,653.8 494.0,653.2 499.2,651.5 C504.4,649.9 502.5,650.4 507.6,650.0 C512.6,649.7 510.2,649.6 514.3,650.5 C518.4,651.4 516.4,651.1 519.8,652.7 C523.2,654.3 522.9,654.5 524.4,655.4" stroke="#111" stroke-width="1.49" fill="none" />
<path d="M517.0,677.6 C518.4,677.1 518.3,677.4 521.1,676.0 C523.8,674.6 523.2,674.6 525.3,673.4 C527.3,672.3 526.5,672.8 527.1,672.4" stroke="#111" stroke-width="0.92" fill="none" />
<text transform="matrix(0.866,-0.5,0,1,440.6,767.8)" font-size="4.8" font-style="italic" font-weight="bold" fill="#222">W1</text>
<text transform="matrix(0.866,-0.5,0,1,453.2,760.8)" font-size="4.8" font-style="italic" font-weight="bold" fill="#222">W2</text>
<text transform="matrix(0.866,-0.5,0,1,464.6,754.4)" font-size="4.8" font-style="italic" font-weight="bold" fill="#222">W3</text>
<text transform="matrix(0.866,-0.5,0,1,477,747.6)" font-size="4.8" font-style="italic" font-weight="bold" fill="#222">W4</text>
<path d="M436.6,783.6 L436.6,778.6 L452,770 L490,748.2 M455.6,777.6 L478,764.8" stroke="#222" stroke-width="0.8" fill="none" />
<line x1="455.6" y1="776.6" x2="478.4" y2="763.6" stroke="#444" stroke-width="3.4" stroke-dasharray="0.6 1.0" stroke-linecap="butt"/>
<path d="M455.2,774.6 L478,761.6 M456,778.8 L478.8,765.8" fill="none" stroke="#222" stroke-width="0.8"/>
<path d="M436.6,778 L441,775.6 L441,786 L436.6,788.6 Z" fill="#bbb" stroke="#222" stroke-width="0.6"/>
<path d="M441.4,778.4 L453.6,771.4 L455,780.6 L442.8,787.6 Z" fill="#3a3a3a" stroke="#222" stroke-width="0.9"/>
<path d="M444.4,780.4 L452.6,775.6 M444.8,783 L453,778.2" fill="none" stroke="#bbb" stroke-width="0.6"/>
<path d="M477.4,757.6 L489.8,750.4 L491.6,752.4 L491.6,757 L479.6,764.2 L477.4,762.6 Z" fill="#4a4a4a" stroke="#222" stroke-width="0.8"/>
<path d="M477.4,756.4 L490,749.2 L491.8,751" fill="none" stroke="#222" stroke-width="0.7"/>
<path d="M480.6,760 L490.4,754.4 M480.6,762 L490.4,756.4" fill="none" stroke="#ccc" stroke-width="0.5"/>
<text transform="matrix(0.866,-0.5,0,1,511,726.4)" font-size="5" font-weight="bold" fill="#333">&#8801;</text>
<path d="M511.4,724.6 L516.6,718.6 M510.6,722 L517,721" stroke="#444" stroke-width="0.69" fill="none" />
<text transform="matrix(0.866,-0.5,0,1,542.6,706.6)" font-size="2.8" font-weight="bold" fill="#333" textLength="19" lengthAdjust="spacingAndGlyphs">START STOP</text>
<text transform="matrix(0.866,-0.5,0,1,544.6,709.6)" font-size="2.8" font-weight="bold" fill="#333" textLength="17" lengthAdjust="spacingAndGlyphs">COM PASS</text>
<polygon points="546.9,712.2 555.8,707.8 561.7,710.7 561.7,721.0 555.8,726.2 548.4,721.8" stroke="#222" stroke-width="0.92" fill="#fff" />
<path d="M546.9,712.2 L553.6,716 L561.7,710.7 M553.6,716 L554,725.4 M557.4,713.6 L557.6,724.4" stroke="#222" stroke-width="0.8" fill="none" />
<path d="M551,706.6 L556.6,703.6 L558.6,705 L558.6,708.4 L553.4,711.4 L551,709.6 Z" fill="#333" stroke="#222" stroke-width="0.5"/>
<circle cx="554" cy="707" r="0.8" fill="#fff"/><circle cx="557" cy="705.4" r="0.8" fill="#fff"/>
<path d="M554.6,718 L554.6,722.6 L556.6,721.4 L556.6,717 Z M558.6,715.6 L558.6,720 L560.6,718.8 L560.6,714.4 Z" fill="#555" stroke="none"/>
</g>
<g id="remote">
<rect x="553.5" y="589" width="34.4" height="64.2" rx="2.6" fill="#3b3b3b"/>
<rect x="567" y="597.7" width="7.4" height="7.8" rx="2.6" fill="#dcdcdc"/>
<rect x="567" y="606.4" width="7.4" height="7.8" rx="2.6" fill="#dcdcdc"/>
<rect x="567" y="615.4" width="7.4" height="7.8" rx="2.6" fill="#dcdcdc"/>
<rect x="567" y="624.5" width="7.4" height="7.8" rx="2.6" fill="#dcdcdc"/>
<rect x="567.8" y="647.6" width="6" height="1.9" rx="0.9" fill="#fff"/>
<path d="M544.4,566 Q560.5,555.8 576.6,566" fill="none" stroke="#c0c0c0" stroke-width="1.1"/>
<path d="M548.6,572.8 Q560.5,566 572.4,572.8" fill="none" stroke="#9a9a9a" stroke-width="1.1"/>
<path d="M552.8,579.6 Q560.5,574.6 568.2,579.6" fill="none" stroke="#6a6a6a" stroke-width="1.1"/>
<path d="M556.4,586.6 Q560.5,583.8 564.6,586.6" fill="none" stroke="#2a2a2a" stroke-width="1.5"/>
</g>
<g id="tickrect">
<rect x="451" y="735.4" width="213.4" height="160.4" rx="19" ry="19" fill="none" stroke="#111" stroke-width="6.8" stroke-dasharray="1.4 1.93" stroke-linecap="butt"/>
</g>
<g id="ribbons">
<path d="M452.0,779.0 C454.0,780.7 452.7,779.0 458.0,784.0 C463.3,789.0 460.7,785.8 468.0,794.0 C475.3,802.2 472.7,799.0 480.0,808.5 C487.3,818.0 483.5,813.2 490.0,822.5 C496.5,831.8 493.2,828.0 499.5,836.5 C505.8,845.0 502.5,841.2 509.0,848.0 C515.5,854.8 512.7,851.2 519.0,857.0 C525.3,862.8 521.7,860.1 528.0,865.4 C534.3,870.7 531.6,868.4 537.9,873.0 C544.2,877.6 540.8,875.8 547.0,879.2 C553.2,882.6 553.3,881.9 556.4,883.2" stroke="#333" stroke-width="7.3" fill="none" stroke-linecap="butt"/>
<path d="M452.0,779.0 C454.0,780.7 452.7,779.0 458.0,784.0 C463.3,789.0 460.7,785.8 468.0,794.0 C475.3,802.2 472.7,799.0 480.0,808.5 C487.3,818.0 483.5,813.2 490.0,822.5 C496.5,831.8 493.2,828.0 499.5,836.5 C505.8,845.0 502.5,841.2 509.0,848.0 C515.5,854.8 512.7,851.2 519.0,857.0 C525.3,862.8 521.7,860.1 528.0,865.4 C534.3,870.7 531.6,868.4 537.9,873.0 C544.2,877.6 540.8,875.8 547.0,879.2 C553.2,882.6 553.3,881.9 556.4,883.2" stroke="#c6c6c6" stroke-width="6.0" fill="none" stroke-linecap="butt"/>
<path d="M489.0,758.6 C492.7,761.2 493.3,761.6 500.0,766.5 C506.7,771.4 503.3,768.5 509.0,773.4 C514.7,778.3 512.1,775.9 517.0,781.2 C521.9,786.5 519.5,783.7 523.6,789.4 C527.7,795.1 525.6,792.0 529.4,798.2 C533.2,804.4 531.2,801.4 535.0,808.0 C538.8,814.6 536.1,810.8 540.8,818.1 C545.5,825.4 542.7,822.4 549.0,830.0 C555.3,837.6 550.9,833.3 559.6,840.8 C568.3,848.3 563.7,845.7 575.0,852.6 C586.3,859.5 587.4,858.6 593.6,861.6" stroke="#333" stroke-width="7.3" fill="none" stroke-linecap="butt"/>
<path d="M489.0,758.6 C492.7,761.2 493.3,761.6 500.0,766.5 C506.7,771.4 503.3,768.5 509.0,773.4 C514.7,778.3 512.1,775.9 517.0,781.2 C521.9,786.5 519.5,783.7 523.6,789.4 C527.7,795.1 525.6,792.0 529.4,798.2 C533.2,804.4 531.2,801.4 535.0,808.0 C538.8,814.6 536.1,810.8 540.8,818.1 C545.5,825.4 542.7,822.4 549.0,830.0 C555.3,837.6 550.9,833.3 559.6,840.8 C568.3,848.3 563.7,845.7 575.0,852.6 C586.3,859.5 587.4,858.6 593.6,861.6" stroke="#c6c6c6" stroke-width="6.0" fill="none" stroke-linecap="butt"/>
</g>
<g id="thin-cables">
<path d="M452.6,782.6 C454.3,785.4 455.3,785.6 457.6,791.0 C459.9,796.4 458.8,793.2 459.5,798.9 C460.2,804.6 460.1,802.1 459.6,808.0 C459.1,813.9 459.9,810.6 458.0,816.6 C456.1,822.6 457.4,820.1 454.0,826.0 C450.6,831.9 452.4,829.0 447.7,834.3 C443.0,839.6 445.9,836.9 440.0,842.0 C434.1,847.1 437.7,844.3 430.0,849.6 C422.3,854.9 426.1,852.6 417.0,858.0 C407.9,863.4 412.9,860.9 402.6,865.9 C392.3,870.9 396.5,868.2 386.0,873.0 C375.5,877.8 379.5,875.4 371.2,880.4 C362.9,885.4 366.7,882.3 361.0,888.0 C355.3,893.7 357.6,891.1 354.2,897.4 C350.8,903.7 352.0,900.5 350.8,907.0 C349.6,913.5 349.2,910.5 350.6,916.8 C352.0,923.1 350.6,920.4 355.0,926.0 C359.4,931.6 360.9,931.1 363.9,933.7" stroke="#444" stroke-width="2.2" fill="none" stroke-linecap="butt"/>
<path d="M452.6,782.6 C454.3,785.4 455.3,785.6 457.6,791.0 C459.9,796.4 458.8,793.2 459.5,798.9 C460.2,804.6 460.1,802.1 459.6,808.0 C459.1,813.9 459.9,810.6 458.0,816.6 C456.1,822.6 457.4,820.1 454.0,826.0 C450.6,831.9 452.4,829.0 447.7,834.3 C443.0,839.6 445.9,836.9 440.0,842.0 C434.1,847.1 437.7,844.3 430.0,849.6 C422.3,854.9 426.1,852.6 417.0,858.0 C407.9,863.4 412.9,860.9 402.6,865.9 C392.3,870.9 396.5,868.2 386.0,873.0 C375.5,877.8 379.5,875.4 371.2,880.4 C362.9,885.4 366.7,882.3 361.0,888.0 C355.3,893.7 357.6,891.1 354.2,897.4 C350.8,903.7 352.0,900.5 350.8,907.0 C349.6,913.5 349.2,910.5 350.6,916.8 C352.0,923.1 350.6,920.4 355.0,926.0 C359.4,931.6 360.9,931.1 363.9,933.7" stroke="#fff" stroke-width="1.0" fill="none" stroke-linecap="butt"/>
<path d="M457.0,781.6 C459.3,784.4 459.7,784.2 464.0,790.0 C468.3,795.8 467.0,792.9 469.8,798.9 C472.6,804.9 471.4,802.1 472.4,808.0 C473.4,813.9 473.3,810.4 472.7,816.6 C472.1,822.8 472.6,820.2 470.6,826.6 C468.6,833.0 470.3,829.3 466.8,835.8 C463.3,842.3 464.9,839.6 460.0,846.0 C455.1,852.4 458.1,849.1 452.1,854.9 C446.1,860.7 449.4,858.5 442.0,863.4 C434.6,868.3 440.7,864.8 430.0,869.7 C419.3,874.6 421.9,873.2 409.9,878.0 C397.9,882.8 403.7,880.0 394.0,884.0 C384.3,888.0 388.3,885.8 380.8,890.1 C373.3,894.4 376.8,892.2 371.6,897.0 C366.4,901.8 368.5,899.6 365.1,904.6 C361.7,909.6 363.0,907.1 361.4,912.0 C359.8,916.9 359.6,914.2 360.3,919.2 C361.0,924.2 360.2,922.2 363.4,927.0 C366.6,931.8 367.8,931.5 370.0,933.7" stroke="#444" stroke-width="2.2" fill="none" stroke-linecap="butt"/>
<path d="M457.0,781.6 C459.3,784.4 459.7,784.2 464.0,790.0 C468.3,795.8 467.0,792.9 469.8,798.9 C472.6,804.9 471.4,802.1 472.4,808.0 C473.4,813.9 473.3,810.4 472.7,816.6 C472.1,822.8 472.6,820.2 470.6,826.6 C468.6,833.0 470.3,829.3 466.8,835.8 C463.3,842.3 464.9,839.6 460.0,846.0 C455.1,852.4 458.1,849.1 452.1,854.9 C446.1,860.7 449.4,858.5 442.0,863.4 C434.6,868.3 440.7,864.8 430.0,869.7 C419.3,874.6 421.9,873.2 409.9,878.0 C397.9,882.8 403.7,880.0 394.0,884.0 C384.3,888.0 388.3,885.8 380.8,890.1 C373.3,894.4 376.8,892.2 371.6,897.0 C366.4,901.8 368.5,899.6 365.1,904.6 C361.7,909.6 363.0,907.1 361.4,912.0 C359.8,916.9 359.6,914.2 360.3,919.2 C361.0,924.2 360.2,922.2 363.4,927.0 C366.6,931.8 367.8,931.5 370.0,933.7" stroke="#fff" stroke-width="1.0" fill="none" stroke-linecap="butt"/>
<path d="M490.4,762.1 C493.8,763.6 494.2,763.2 500.6,766.6 C507.0,770.0 504.1,768.1 509.6,772.4 C515.1,776.7 512.6,774.5 517.0,779.4 C521.4,784.3 520.0,782.0 522.8,787.2 C525.6,792.4 524.4,789.6 525.4,795.0 C526.4,800.4 526.1,797.4 525.8,803.4 C525.5,809.4 526.1,806.6 524.6,813.0 C523.1,819.4 524.1,816.3 521.4,822.5 C518.7,828.7 520.3,825.7 516.4,831.6 C512.5,837.5 514.9,834.4 509.6,840.2 C504.3,846.0 506.5,843.1 500.6,849.0 C494.7,854.9 497.4,851.6 491.9,857.9 C486.4,864.2 488.4,861.3 484.0,868.0 C479.6,874.7 482.1,871.8 478.6,878.0 C475.1,884.2 476.1,880.9 473.4,886.6 C470.7,892.3 471.5,888.9 470.4,895.0 C469.3,901.1 469.4,898.6 470.2,905.0 C471.0,911.4 470.3,908.8 472.9,914.3 C475.5,919.8 474.0,917.4 478.0,921.6 C482.0,925.8 479.5,923.0 485.0,927.0 C490.5,931.0 491.4,931.5 494.6,933.7" stroke="#444" stroke-width="2.2" fill="none" stroke-linecap="butt"/>
<path d="M490.4,762.1 C493.8,763.6 494.2,763.2 500.6,766.6 C507.0,770.0 504.1,768.1 509.6,772.4 C515.1,776.7 512.6,774.5 517.0,779.4 C521.4,784.3 520.0,782.0 522.8,787.2 C525.6,792.4 524.4,789.6 525.4,795.0 C526.4,800.4 526.1,797.4 525.8,803.4 C525.5,809.4 526.1,806.6 524.6,813.0 C523.1,819.4 524.1,816.3 521.4,822.5 C518.7,828.7 520.3,825.7 516.4,831.6 C512.5,837.5 514.9,834.4 509.6,840.2 C504.3,846.0 506.5,843.1 500.6,849.0 C494.7,854.9 497.4,851.6 491.9,857.9 C486.4,864.2 488.4,861.3 484.0,868.0 C479.6,874.7 482.1,871.8 478.6,878.0 C475.1,884.2 476.1,880.9 473.4,886.6 C470.7,892.3 471.5,888.9 470.4,895.0 C469.3,901.1 469.4,898.6 470.2,905.0 C471.0,911.4 470.3,908.8 472.9,914.3 C475.5,919.8 474.0,917.4 478.0,921.6 C482.0,925.8 479.5,923.0 485.0,927.0 C490.5,931.0 491.4,931.5 494.6,933.7" stroke="#fff" stroke-width="1.0" fill="none" stroke-linecap="butt"/>
<path d="M491.9,759.2 C495.6,760.5 496.1,760.1 503.0,763.0 C509.9,765.9 506.2,763.9 512.5,768.0 C518.8,772.1 516.1,770.0 522.0,775.4 C527.9,780.8 525.9,778.3 530.2,784.2 C534.5,790.1 532.5,787.1 535.0,793.0 C537.5,798.9 536.2,796.4 537.6,801.9 C539.0,807.4 538.7,804.5 539.2,809.4 C539.7,814.3 539.7,811.1 539.0,816.6 C538.3,822.1 538.9,820.1 537.0,826.0 C535.1,831.9 536.7,829.0 533.2,834.3 C529.7,839.6 531.5,837.1 526.6,842.0 C521.7,846.9 524.3,844.0 518.4,849.0 C512.5,854.0 514.9,851.6 509.0,857.0 C503.1,862.4 505.2,859.8 500.7,865.3 C496.2,870.8 498.3,867.8 495.4,873.4 C492.5,879.0 494.1,876.5 492.0,882.0 C489.9,887.5 490.5,884.9 489.0,890.0 C487.5,895.1 487.9,891.4 487.4,897.4 C486.9,903.4 486.6,900.7 487.4,908.0 C488.2,915.3 486.6,912.9 489.8,919.2 C493.0,925.5 491.3,923.0 497.0,927.0 C502.7,931.0 503.5,929.9 506.8,931.3" stroke="#444" stroke-width="2.2" fill="none" stroke-linecap="butt"/>
<path d="M491.9,759.2 C495.6,760.5 496.1,760.1 503.0,763.0 C509.9,765.9 506.2,763.9 512.5,768.0 C518.8,772.1 516.1,770.0 522.0,775.4 C527.9,780.8 525.9,778.3 530.2,784.2 C534.5,790.1 532.5,787.1 535.0,793.0 C537.5,798.9 536.2,796.4 537.6,801.9 C539.0,807.4 538.7,804.5 539.2,809.4 C539.7,814.3 539.7,811.1 539.0,816.6 C538.3,822.1 538.9,820.1 537.0,826.0 C535.1,831.9 536.7,829.0 533.2,834.3 C529.7,839.6 531.5,837.1 526.6,842.0 C521.7,846.9 524.3,844.0 518.4,849.0 C512.5,854.0 514.9,851.6 509.0,857.0 C503.1,862.4 505.2,859.8 500.7,865.3 C496.2,870.8 498.3,867.8 495.4,873.4 C492.5,879.0 494.1,876.5 492.0,882.0 C489.9,887.5 490.5,884.9 489.0,890.0 C487.5,895.1 487.9,891.4 487.4,897.4 C486.9,903.4 486.6,900.7 487.4,908.0 C488.2,915.3 486.6,912.9 489.8,919.2 C493.0,925.5 491.3,923.0 497.0,927.0 C502.7,931.0 503.5,929.9 506.8,931.3" stroke="#fff" stroke-width="1.0" fill="none" stroke-linecap="butt"/>
</g>
<g id="plugs">
<path d="M591.8,864.0 Q598.1,868.0 602.5,874.7" stroke="#333" stroke-width="0.69" fill="none" />
<path d="M592.8,862.8 Q600.0,866.1 605.4,872.4" stroke="#333" stroke-width="0.69" fill="none" />
<path d="M593.7,861.5 Q602.0,864.4 608.2,870.0" stroke="#333" stroke-width="0.69" fill="none" />
<path d="M594.6,860.2 Q603.8,862.6 611.0,867.6" stroke="#333" stroke-width="0.69" fill="none" />
<path d="M595.6,859.0 Q605.8,860.8 613.9,865.3" stroke="#333" stroke-width="0.69" fill="none" />
<polygon points="602.5,874.7 613.9,865.3 632.8,876.6 632.8,880.0 620.8,888.2 602.5,877.9" stroke="#222" stroke-width="1.03" fill="#c4c4c4" />
<path d="M602.5,874.7 L620.8,884.8 L632.8,876.6 M620.8,884.8 V888.2" stroke="#222" stroke-width="0.92" fill="none" />
<path d="M613.8,881.0 L625.6,872.3" stroke="#555" stroke-width="0.69" fill="none" />
<rect x="622.1" y="876.9" width="2.4" height="1.6" fill="#333"/>
<path d="M623.0,884.3 l2.4,-1.6 v1.6 l-2.4,1.6 Z" fill="#333"/>
<path d="M626.6,881.9 l2.4,-1.6 v1.6 l-2.4,1.6 Z" fill="#333"/>
<path d="M630.2,879.4 l2.4,-1.6 v1.6 l-2.4,1.6 Z" fill="#333"/>
<path d="M556.5,884.9 Q562.9,888.9 567.2,895.6" stroke="#333" stroke-width="0.69" fill="none" />
<path d="M557.5,883.6 Q564.8,887.1 570.1,893.2" stroke="#333" stroke-width="0.69" fill="none" />
<path d="M558.4,882.4 Q566.7,885.2 572.9,890.9" stroke="#333" stroke-width="0.69" fill="none" />
<path d="M559.4,881.1 Q568.5,883.4 575.8,888.5" stroke="#333" stroke-width="0.69" fill="none" />
<path d="M560.3,879.9 Q570.5,881.6 578.6,886.2" stroke="#333" stroke-width="0.69" fill="none" />
<polygon points="567.2,895.6 578.6,886.2 597.5,897.5 597.5,900.9 585.5,909.1 567.2,898.8" stroke="#222" stroke-width="1.03" fill="#c4c4c4" />
<path d="M567.2,895.6 L585.5,905.7 L597.5,897.5 M585.5,905.7 V909.1" stroke="#222" stroke-width="0.92" fill="none" />
<path d="M578.5,901.9 L590.3,893.2" stroke="#555" stroke-width="0.69" fill="none" />
<rect x="586.8" y="897.8" width="2.4" height="1.6" fill="#333"/>
<path d="M587.7,905.2 l2.4,-1.6 v1.6 l-2.4,1.6 Z" fill="#333"/>
<path d="M591.3,902.8 l2.4,-1.6 v1.6 l-2.4,1.6 Z" fill="#333"/>
<path d="M594.9,900.3 l2.4,-1.6 v1.6 l-2.4,1.6 Z" fill="#333"/>
</g>
<text transform="translate(514.2,825.8) rotate(-29.4)" font-size="16.4" font-weight="bold" font-style="italic" fill="#111" textLength="140.5" lengthAdjust="spacingAndGlyphs" stroke="#111" stroke-width="0.3">BM01CO90000001</text>
<g id="switches">
<path d="M355.0,948.0 Q355.0,945.0 357.7,943.6 L389.9,926.5 Q392.6,925.1 395.1,926.7 L449.0,960.1 Q451.5,961.7 451.5,964.7 L451.5,973.7 Q451.5,976.7 448.8,978.1 L418.2,994.0 Q415.5,995.4 412.9,993.9 L357.6,961.5 Q355.0,960.0 355.0,957.0 Z" fill="#fff" stroke="#222" stroke-width="1.0"/>
<path d="M357.9,946.7 Q355.0,945.0 358.0,943.4 L389.6,926.7 Q392.6,925.1 395.5,926.9 L448.6,959.9 Q451.5,961.7 448.5,963.3 L418.5,978.8 Q415.5,980.4 412.6,978.7 Z" fill="#fff" stroke="#222" stroke-width="1.0"/>
<path d="M357.6,948.2 L413.9,982.6 M412.9,981.4 V994.4 M418.3,981.0 V993.8 M418.3,981.8 L450.3,964.7" stroke="#444" stroke-width="0.69" fill="none" />
<text transform="matrix(0.866,-0.5,0.866,0.5,391.4,956.8)" font-size="7.4" fill="#222" stroke="#222" stroke-width="0.25" textLength="25.4" lengthAdjust="spacingAndGlyphs">SMART</text>
<text transform="matrix(0.866,-0.5,0.866,0.5,397.5,963.5)" font-size="7.4" fill="#222" stroke="#222" stroke-width="0.25" textLength="29.6" lengthAdjust="spacingAndGlyphs">SWITCH</text>
<path d="M488.0,946.4 Q488.0,943.4 490.7,942.0 L522.9,924.9 Q525.6,923.5 528.1,925.1 L582.0,958.5 Q584.5,960.1 584.5,963.1 L584.5,972.1 Q584.5,975.1 581.8,976.5 L551.2,992.4 Q548.5,993.8 545.9,992.3 L490.6,959.9 Q488.0,958.4 488.0,955.4 Z" fill="#fff" stroke="#222" stroke-width="1.0"/>
<path d="M490.9,945.1 Q488.0,943.4 491.0,941.8 L522.6,925.1 Q525.6,923.5 528.5,925.3 L581.6,958.3 Q584.5,960.1 581.5,961.7 L551.5,977.2 Q548.5,978.8 545.6,977.1 Z" fill="#fff" stroke="#222" stroke-width="1.0"/>
<path d="M490.6,946.6 L546.9,981.0 M545.9,979.8 V992.8 M551.3,979.4 V992.2 M551.3,980.2 L583.3,963.1" stroke="#444" stroke-width="0.69" fill="none" />
<text transform="matrix(0.866,-0.5,0.866,0.5,524.4,955.1999999999999)" font-size="7.4" fill="#222" stroke="#222" stroke-width="0.25" textLength="25.4" lengthAdjust="spacingAndGlyphs">SMART</text>
<text transform="matrix(0.866,-0.5,0.866,0.5,530.5,961.9)" font-size="7.4" fill="#222" stroke="#222" stroke-width="0.25" textLength="29.6" lengthAdjust="spacingAndGlyphs">SWITCH</text>
</g>
<g id="dotrect" fill="#111">
<circle cx="143.5" cy="918.8" r="1.3"/><circle cx="143.6" cy="1305.5" r="1.3"/><circle cx="151.9" cy="918.8" r="1.3"/><circle cx="152.0" cy="1305.5" r="1.3"/><circle cx="160.2" cy="918.8" r="1.3"/><circle cx="160.3" cy="1305.5" r="1.3"/><circle cx="168.6" cy="918.8" r="1.3"/><circle cx="168.7" cy="1305.5" r="1.3"/><circle cx="177.0" cy="918.8" r="1.3"/><circle cx="177.1" cy="1305.5" r="1.3"/><circle cx="185.3" cy="918.8" r="1.3"/><circle cx="185.4" cy="1305.5" r="1.3"/><circle cx="193.7" cy="918.8" r="1.3"/><circle cx="193.8" cy="1305.5" r="1.3"/><circle cx="202.1" cy="918.8" r="1.3"/><circle cx="202.2" cy="1305.5" r="1.3"/><circle cx="210.5" cy="918.8" r="1.3"/><circle cx="210.6" cy="1305.5" r="1.3"/><circle cx="218.8" cy="918.8" r="1.3"/><circle cx="218.9" cy="1305.5" r="1.3"/><circle cx="227.2" cy="918.8" r="1.3"/><circle cx="227.3" cy="1305.5" r="1.3"/><circle cx="235.6" cy="918.8" r="1.3"/><circle cx="235.7" cy="1305.5" r="1.3"/><circle cx="243.9" cy="918.8" r="1.3"/><circle cx="244.0" cy="1305.5" r="1.3"/><circle cx="252.3" cy="918.8" r="1.3"/><circle cx="252.4" cy="1305.5" r="1.3"/><circle cx="260.7" cy="918.8" r="1.3"/><circle cx="260.8" cy="1305.5" r="1.3"/><circle cx="269.0" cy="918.8" r="1.3"/><circle cx="269.1" cy="1305.5" r="1.3"/><circle cx="277.4" cy="918.8" r="1.3"/><circle cx="277.5" cy="1305.5" r="1.3"/><circle cx="285.8" cy="918.8" r="1.3"/><circle cx="285.9" cy="1305.5" r="1.3"/><circle cx="294.2" cy="918.8" r="1.3"/><circle cx="294.3" cy="1305.5" r="1.3"/><circle cx="302.5" cy="918.8" r="1.3"/><circle cx="302.6" cy="1305.5" r="1.3"/><circle cx="310.9" cy="918.8" r="1.3"/><circle cx="311.0" cy="1305.5" r="1.3"/><circle cx="319.3" cy="918.8" r="1.3"/><circle cx="319.4" cy="1305.5" r="1.3"/><circle cx="327.6" cy="918.8" r="1.3"/><circle cx="327.7" cy="1305.5" r="1.3"/><circle cx="336.0" cy="918.8" r="1.3"/><circle cx="336.1" cy="1305.5" r="1.3"/><circle cx="344.4" cy="918.8" r="1.3"/><circle cx="344.5" cy="1305.5" r="1.3"/><circle cx="352.8" cy="918.8" r="1.3"/><circle cx="352.8" cy="1305.5" r="1.3"/><circle cx="361.1" cy="918.8" r="1.3"/><circle cx="361.2" cy="1305.5" r="1.3"/><circle cx="369.5" cy="918.8" r="1.3"/><circle cx="369.6" cy="1305.5" r="1.3"/><circle cx="377.9" cy="918.8" r="1.3"/><circle cx="378.0" cy="1305.5" r="1.3"/><circle cx="386.2" cy="918.8" r="1.3"/><circle cx="386.3" cy="1305.5" r="1.3"/><circle cx="394.6" cy="918.8" r="1.3"/><circle cx="394.7" cy="1305.5" r="1.3"/><circle cx="403.0" cy="918.8" r="1.3"/><circle cx="403.1" cy="1305.5" r="1.3"/><circle cx="411.3" cy="918.8" r="1.3"/><circle cx="411.4" cy="1305.5" r="1.3"/><circle cx="419.7" cy="918.8" r="1.3"/><circle cx="419.8" cy="1305.5" r="1.3"/><circle cx="428.1" cy="918.8" r="1.3"/><circle cx="428.2" cy="1305.5" r="1.3"/><circle cx="436.4" cy="918.8" r="1.3"/><circle cx="436.5" cy="1305.5" r="1.3"/><circle cx="444.8" cy="918.8" r="1.3"/><circle cx="444.9" cy="1305.5" r="1.3"/><circle cx="453.2" cy="918.8" r="1.3"/><circle cx="453.3" cy="1305.5" r="1.3"/><circle cx="461.6" cy="918.8" r="1.3"/><circle cx="461.7" cy="1305.5" r="1.3"/><circle cx="469.9" cy="918.8" r="1.3"/><circle cx="470.0" cy="1305.5" r="1.3"/><circle cx="478.3" cy="918.8" r="1.3"/><circle cx="478.4" cy="1305.5" r="1.3"/><circle cx="486.7" cy="918.8" r="1.3"/><circle cx="486.8" cy="1305.5" r="1.3"/><circle cx="495.0" cy="918.8" r="1.3"/><circle cx="495.1" cy="1305.5" r="1.3"/><circle cx="503.4" cy="918.8" r="1.3"/><circle cx="503.5" cy="1305.5" r="1.3"/><circle cx="511.8" cy="918.8" r="1.3"/><circle cx="511.9" cy="1305.5" r="1.3"/><circle cx="520.1" cy="918.8" r="1.3"/><circle cx="520.2" cy="1305.5" r="1.3"/><circle cx="528.5" cy="918.8" r="1.3"/><circle cx="528.6" cy="1305.5" r="1.3"/><circle cx="536.9" cy="918.8" r="1.3"/><circle cx="537.0" cy="1305.5" r="1.3"/><circle cx="545.3" cy="918.8" r="1.3"/><circle cx="545.4" cy="1305.5" r="1.3"/><circle cx="553.6" cy="918.8" r="1.3"/><circle cx="553.7" cy="1305.5" r="1.3"/><circle cx="562.0" cy="918.8" r="1.3"/><circle cx="562.1" cy="1305.5" r="1.3"/><circle cx="570.4" cy="918.8" r="1.3"/><circle cx="570.5" cy="1305.5" r="1.3"/><circle cx="578.7" cy="918.8" r="1.3"/><circle cx="578.8" cy="1305.5" r="1.3"/><circle cx="587.1" cy="918.8" r="1.3"/><circle cx="587.2" cy="1305.5" r="1.3"/><circle cx="595.5" cy="918.8" r="1.3"/><circle cx="595.6" cy="1305.5" r="1.3"/><circle cx="603.8" cy="918.8" r="1.3"/><circle cx="603.9" cy="1305.5" r="1.3"/><circle cx="612.2" cy="918.8" r="1.3"/><circle cx="612.3" cy="1305.5" r="1.3"/><circle cx="620.6" cy="918.8" r="1.3"/><circle cx="620.7" cy="1305.5" r="1.3"/><circle cx="629.0" cy="918.8" r="1.3"/><circle cx="629.1" cy="1305.5" r="1.3"/><circle cx="637.3" cy="918.8" r="1.3"/><circle cx="637.4" cy="1305.5" r="1.3"/><circle cx="645.7" cy="918.8" r="1.3"/><circle cx="645.8" cy="1305.5" r="1.3"/><circle cx="654.1" cy="918.8" r="1.3"/><circle cx="654.2" cy="1305.5" r="1.3"/><circle cx="662.4" cy="918.8" r="1.3"/><circle cx="662.5" cy="1305.5" r="1.3"/><circle cx="670.8" cy="918.8" r="1.3"/><circle cx="670.9" cy="1305.5" r="1.3"/><circle cx="679.2" cy="918.8" r="1.3"/><circle cx="679.3" cy="1305.5" r="1.3"/><circle cx="687.5" cy="918.8" r="1.3"/><circle cx="687.6" cy="1305.5" r="1.3"/><circle cx="695.9" cy="918.8" r="1.3"/><circle cx="696.0" cy="1305.5" r="1.3"/><circle cx="704.3" cy="918.8" r="1.3"/><circle cx="704.4" cy="1305.5" r="1.3"/><circle cx="712.7" cy="918.8" r="1.3"/><circle cx="712.8" cy="1305.5" r="1.3"/><circle cx="721.0" cy="918.8" r="1.3"/><circle cx="721.1" cy="1305.5" r="1.3"/><circle cx="729.4" cy="918.8" r="1.3"/><circle cx="729.5" cy="1305.5" r="1.3"/><circle cx="737.8" cy="918.8" r="1.3"/><circle cx="737.9" cy="1305.5" r="1.3"/><circle cx="746.1" cy="918.8" r="1.3"/><circle cx="746.2" cy="1305.5" r="1.3"/><circle cx="754.5" cy="918.8" r="1.3"/><circle cx="754.6" cy="1305.5" r="1.3"/><circle cx="762.9" cy="918.8" r="1.3"/><circle cx="763.0" cy="1305.5" r="1.3"/><circle cx="771.2" cy="918.8" r="1.3"/><circle cx="771.3" cy="1305.5" r="1.3"/><circle cx="779.6" cy="918.8" r="1.3"/><circle cx="779.7" cy="1305.5" r="1.3"/><circle cx="788.0" cy="918.8" r="1.3"/><circle cx="788.1" cy="1305.5" r="1.3"/><circle cx="796.4" cy="918.8" r="1.3"/><circle cx="796.5" cy="1305.5" r="1.3"/><circle cx="804.7" cy="918.8" r="1.3"/><circle cx="804.8" cy="1305.5" r="1.3"/><circle cx="813.1" cy="918.8" r="1.3"/><circle cx="813.2" cy="1305.5" r="1.3"/><circle cx="133.4" cy="928.5" r="1.3"/><circle cx="133.4" cy="936.9" r="1.3"/><circle cx="133.4" cy="945.2" r="1.3"/><circle cx="133.4" cy="953.6" r="1.3"/><circle cx="133.4" cy="961.9" r="1.3"/><circle cx="133.4" cy="970.3" r="1.3"/><circle cx="133.4" cy="978.7" r="1.3"/><circle cx="133.4" cy="987.0" r="1.3"/><circle cx="133.4" cy="995.4" r="1.3"/><circle cx="133.4" cy="1003.7" r="1.3"/><circle cx="133.4" cy="1012.1" r="1.3"/><circle cx="133.4" cy="1020.5" r="1.3"/><circle cx="133.4" cy="1028.8" r="1.3"/><circle cx="133.4" cy="1037.2" r="1.3"/><circle cx="133.4" cy="1045.5" r="1.3"/><circle cx="133.4" cy="1053.9" r="1.3"/><circle cx="133.4" cy="1062.3" r="1.3"/><circle cx="133.4" cy="1070.6" r="1.3"/><circle cx="133.4" cy="1079.0" r="1.3"/><circle cx="133.4" cy="1087.3" r="1.3"/><circle cx="133.4" cy="1095.7" r="1.3"/><circle cx="133.4" cy="1104.1" r="1.3"/><circle cx="133.4" cy="1112.4" r="1.3"/><circle cx="133.4" cy="1120.8" r="1.3"/><circle cx="133.4" cy="1129.1" r="1.3"/><circle cx="133.4" cy="1137.5" r="1.3"/><circle cx="133.4" cy="1145.9" r="1.3"/><circle cx="133.4" cy="1154.2" r="1.3"/><circle cx="133.4" cy="1162.6" r="1.3"/><circle cx="133.4" cy="1170.9" r="1.3"/><circle cx="133.4" cy="1179.3" r="1.3"/><circle cx="133.4" cy="1187.7" r="1.3"/><circle cx="133.4" cy="1196.0" r="1.3"/><circle cx="133.4" cy="1204.4" r="1.3"/><circle cx="133.4" cy="1212.7" r="1.3"/><circle cx="133.4" cy="1221.1" r="1.3"/><circle cx="133.4" cy="1229.5" r="1.3"/><circle cx="133.4" cy="1237.8" r="1.3"/><circle cx="133.4" cy="1246.2" r="1.3"/><circle cx="133.4" cy="1254.5" r="1.3"/><circle cx="133.4" cy="1262.9" r="1.3"/><circle cx="133.4" cy="1271.3" r="1.3"/><circle cx="133.4" cy="1279.6" r="1.3"/><circle cx="133.4" cy="1288.0" r="1.3"/><circle cx="133.4" cy="1296.3" r="1.3"/><circle cx="819.0" cy="1300.4" r="1.3"/><circle cx="819.0" cy="1292.0" r="1.3"/><circle cx="819.0" cy="1283.7" r="1.3"/><circle cx="819.0" cy="1275.3" r="1.3"/><circle cx="819.0" cy="1266.9" r="1.3"/><circle cx="819.0" cy="1258.6" r="1.3"/><circle cx="819.0" cy="1250.2" r="1.3"/><circle cx="819.0" cy="1241.8" r="1.3"/><circle cx="819.0" cy="1233.4" r="1.3"/><circle cx="819.0" cy="1225.1" r="1.3"/><circle cx="819.0" cy="1216.7" r="1.3"/><circle cx="819.0" cy="1208.3" r="1.3"/><circle cx="819.0" cy="1200.0" r="1.3"/><circle cx="819.0" cy="1191.6" r="1.3"/><circle cx="819.0" cy="1183.2" r="1.3"/><circle cx="819.0" cy="1174.9" r="1.3"/><circle cx="819.0" cy="1166.5" r="1.3"/><circle cx="819.0" cy="1158.1" r="1.3"/><circle cx="819.0" cy="1149.7" r="1.3"/><circle cx="819.0" cy="1141.4" r="1.3"/><circle cx="819.0" cy="1133.0" r="1.3"/><circle cx="819.0" cy="1124.6" r="1.3"/><circle cx="819.0" cy="1116.3" r="1.3"/><circle cx="819.0" cy="1107.9" r="1.3"/><circle cx="819.0" cy="1099.5" r="1.3"/><circle cx="819.0" cy="1091.2" r="1.3"/><circle cx="819.0" cy="1082.8" r="1.3"/><circle cx="819.0" cy="1074.4" r="1.3"/><circle cx="819.0" cy="1066.0" r="1.3"/><circle cx="819.0" cy="1057.7" r="1.3"/><circle cx="819.0" cy="1049.3" r="1.3"/><circle cx="819.0" cy="1040.9" r="1.3"/><circle cx="819.0" cy="1032.6" r="1.3"/><circle cx="819.0" cy="1024.2" r="1.3"/><circle cx="819.0" cy="1015.8" r="1.3"/><circle cx="819.0" cy="1007.5" r="1.3"/><circle cx="819.0" cy="999.1" r="1.3"/><circle cx="819.0" cy="990.7" r="1.3"/><circle cx="819.0" cy="982.3" r="1.3"/><circle cx="819.0" cy="974.0" r="1.3"/><circle cx="819.0" cy="965.6" r="1.3"/><circle cx="819.0" cy="957.2" r="1.3"/><circle cx="819.0" cy="948.9" r="1.3"/><circle cx="819.0" cy="940.5" r="1.3"/><circle cx="819.0" cy="932.1" r="1.3"/><circle cx="819.0" cy="923.8" r="1.3"/><circle cx="135.5" cy="920.4" r="1.3"/><circle cx="135.7" cy="1304.0" r="1.3"/>
</g>
<g id="links" fill="none" stroke="#111" stroke-width="1.7" stroke-linecap="butt">
<path d="M435.6,989.4 L650.6,1100" stroke-dasharray="10.4 7.6"/>
<path d="M569.8,987.8 L680,1099.4" stroke-dasharray="9.6 7.8"/>
<path d="M298.4,1153 L627,1178" stroke-dasharray="11 8.2"/>
</g>
<g id="speaker">
<path d="M639.9,1116 V1234 Q639.9,1247 656,1251.4 Q680.5,1257.6 705,1251.4 Q721.1,1247 721.1,1234 V1116" fill="#fff" stroke="#1a1a1a" stroke-width="2.3"/>
<ellipse cx="680.5" cy="1115.6" rx="40.6" ry="9.6" fill="#fff" stroke="#1a1a1a" stroke-width="2.3"/>
<path d="M640.6,1117 Q646,1124.6 680.5,1125.6 Q715,1124.6 720.4,1117 Q716,1128 680.5,1128.4 Q645,1128 640.6,1117 Z" fill="#1a1a1a" stroke="#1a1a1a" stroke-width="0.6"/>
<rect x="659.9" y="1110.3999999999999" width="7.4" height="2.4" rx="1.2" fill="#1a1a1a"/>
<rect x="676.1999999999999" y="1109.6" width="7.4" height="2.4" rx="1.2" fill="#1a1a1a"/>
<rect x="692.1999999999999" y="1110.3999999999999" width="7.4" height="2.4" rx="1.2" fill="#1a1a1a"/>
<rect x="676.1999999999999" y="1115.3999999999999" width="7.4" height="2.4" rx="1.2" fill="#1a1a1a"/>
<g transform="translate(678.2,1205.9) scale(0.815)" fill="#6a6a6a" stroke="none">
<path d="M0,0 L27.2,24.2 L23.8,28 L0,6.6 L-23.8,28 L-27.2,24.2 Z"/>
<path d="M0,10.4 L20.3,28.6 V46.4 H5 V30 H-5 V46.4 H-20.3 V28.6 Z"/>
<path d="M11.2,-1.9 A21,21 0 0 1 24.6,11" fill="none" stroke="#6a6a6a" stroke-width="2.7" stroke-linecap="round"/>
<path d="M11.2,-8.8 A28,28 0 0 1 31.2,11" fill="none" stroke="#6a6a6a" stroke-width="2.7" stroke-linecap="round"/>
</g>
</g>
<g id="phone">
<path d="M188.6,1048 Q188.2,1022 205,1015.4 Q210,1013.4 217,1014.6 L277,1024 Q287.6,1026.6 287.6,1040 L287.6,1262 Q287.6,1274 277,1277.4 L212,1290.4 Q196,1292.4 190.6,1276 Q188.6,1268 188.6,1258 Z" fill="#fff" stroke="#222" stroke-width="0.9"/>
<path d="M197.6,1262 L197.6,1046 Q197.6,1024 212,1018.2" fill="none" stroke="#111" stroke-width="2.6"/>
<path d="M197.6,1260 Q198,1283 214,1287.4 L262,1278.2" fill="none" stroke="#111" stroke-width="2.0"/>
<path d="M262,1278.2 L276,1275.4" fill="none" stroke="#222" stroke-width="1.0"/>
<path d="M189.8,1259 L189.8,1048 Q189.8,1025 206,1016.6" fill="none" stroke="#111" stroke-width="1.7"/>
<path d="M193.6,1262 L193.6,1046" fill="none" stroke="#555" stroke-width="0.7"/>
<path d="M211,1018.8 Q215,1016.9 221.4,1018.2" fill="none" stroke="#111" stroke-width="2.2"/>
<path d="M189.6,1262 Q190.6,1289.6 211,1290.6 L250,1283.4" fill="none" stroke="#8a8a8a" stroke-width="2.2"/>
<path d="M188.6,1262 Q189,1292 211,1292.2" fill="none" stroke="#222" stroke-width="0.8"/>
<path d="M189.4,1051 V1060 M189.4,1066 V1084 M189.4,1092 V1112" stroke="#fff" stroke-width="2.6" fill="none" stroke-linecap="butt"/>
<path d="M188.4,1051 V1060 M188.4,1066 V1084 M188.4,1092 V1112" stroke="#555" stroke-width="0.7" fill="none" stroke-linecap="butt"/>
<path d="M188.6,1044.6 H198 M188.6,1260.6 H198" stroke="#777" stroke-width="1" fill="none"/>
<path d="M220.6,1018.6 L269.8,1026.6 L269.8,1031.4 Q269.6,1036.2 264.6,1035.6 L228,1029.8 Q220.6,1028.4 220.6,1022 Z" fill="#111"/>
<path d="M240,1025.2 L252,1027" stroke="#555" stroke-width="1.2" fill="none"/>
<text transform="translate(236,1069) rotate(6)" font-size="9.6" fill="#111" stroke="#111" stroke-width="0.25" textLength="19" lengthAdjust="spacingAndGlyphs">Home</text>
<ellipse cx="214.4" cy="1085.6" rx="6.6" ry="8.4" transform="rotate(-6 214.4 1085.6)" fill="#1c1c1c"/>
<ellipse cx="235.8" cy="1087.6" rx="6.6" ry="8.4" transform="rotate(-6 235.8 1087.6)" fill="#1c1c1c"/>
<ellipse cx="256.1" cy="1089.5" rx="6.6" ry="8.4" transform="rotate(-6 256.1 1089.5)" fill="#1c1c1c"/>
<ellipse cx="275.2" cy="1091.3" rx="6.6" ry="8.4" transform="rotate(-6 275.2 1091.3)" fill="#1c1c1c"/>
<ellipse cx="224.8" cy="1123.2" rx="6.4" ry="8.4" transform="rotate(-4 224.8 1123.2)" fill="#1c1c1c"/>
<ellipse cx="245.8" cy="1124.5" rx="6.4" ry="8.4" transform="rotate(-4 245.8 1124.5)" fill="#1c1c1c"/>
<ellipse cx="265.7" cy="1125.1" rx="6.4" ry="8.4" transform="rotate(-4 265.7 1125.1)" fill="#1c1c1c"/>
<path d="M207.4,1152.2 H281.4" stroke="#222" stroke-width="0.8" fill="none"/>
<text x="233" y="1164.4" font-size="6.2" fill="#222" stroke="#222" stroke-width="0.2" textLength="25.6" lengthAdjust="spacingAndGlyphs">Living Room</text>
<ellipse cx="226.3" cy="1183.4" rx="5.2" ry="9" fill="#fff" stroke="#222" stroke-width="0.7"/>
<circle cx="226.3" cy="1186.2" r="3.9" fill="#111"/>
<circle cx="226.3" cy="1178.0" r="1.1" fill="#111"/>
<ellipse cx="265.5" cy="1181.6" rx="5.2" ry="9" fill="#fff" stroke="#222" stroke-width="0.7"/>
<circle cx="265.5" cy="1184.3999999999999" r="3.9" fill="#111"/>
<circle cx="265.5" cy="1176.1999999999998" r="1.1" fill="#111"/>
<text transform="translate(213,1212.4) rotate(-7)" font-size="4.4" fill="#111" stroke="#111" stroke-width="0.15">off &#160; &#160; &#183; &#160; &#160; On</text>
<text transform="translate(252.4,1208.6) rotate(-7)" font-size="4.4" fill="#111" stroke="#111" stroke-width="0.15">off &#160; &#160; &#183; &#160; &#160; On</text>
<path d="M207.4,1219.6 L281.4,1212" stroke="#222" stroke-width="0.8" fill="none"/>
<rect x="232.9" y="1222.4" width="11.8" height="6.2" fill="#111"/>
<text transform="translate(246.8,1228.2) rotate(-3)" font-size="5.6" fill="#111" stroke="#111" stroke-width="0.2" textLength="11.6" lengthAdjust="spacingAndGlyphs">Room</text>
<path d="M198.8,1257.2 L287,1244.6" stroke="#222" stroke-width="0.8" fill="none"/>
<path d="M207.2,1267 L209.4,1263.4 L211.8,1265.6 L211.8,1269.6 L207.4,1270.2 Z" fill="none" stroke="#222" stroke-width="0.8"/>
<ellipse cx="228.2" cy="1263.4" rx="2.4" ry="2.8" fill="none" stroke="#222" stroke-width="0.8"/>
<path d="M260.2,1255.8 L264.6,1255 L264.6,1260.2 L260.2,1261 Z M261.6,1254.4 L266,1253.6 L266,1258.8" fill="none" stroke="#222" stroke-width="0.8"/>
<ellipse cx="278.8" cy="1255.4" rx="2.2" ry="2.7" fill="none" stroke="#222" stroke-width="0.8"/>
<path d="M277,1255.2 H280.6" stroke="#222" stroke-width="0.6"/>
<path d="M231,1279.4 L260.4,1274.2" stroke="#111" stroke-width="1.6" fill="none"/>
</g>
</svg>
</body></html>
